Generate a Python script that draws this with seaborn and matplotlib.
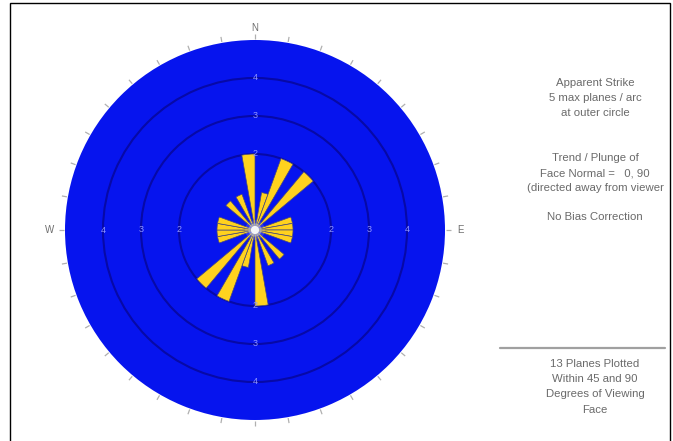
import numpy as np
import matplotlib
matplotlib.use("Agg")
import matplotlib.pyplot as plt
from matplotlib.lines import Line2D
from matplotlib.patches import Rectangle
import seaborn as sns

# Apparent-strike counts per 10-degree arc (0-180); strikes are axial,
# so each arc is mirrored onto the opposite side of the rose.
arc_starts = list(range(0, 180, 10))
arc_counts = [0, 1, 2, 0, 2, 0, 0, 1, 1, 1, 1, 0, 0, 1, 0, 1, 0, 2]
arc_width = 10
max_planes = 5
ring_levels = [2, 3, 4]
ring_labels = ["2", "3", "4"]
tick_angles = np.arange(0, 360, 10)

info_top = ["Apparent Strike", "5 max planes / arc", "at outer circle"]
info_mid = ["Trend / Plunge of", "Face Normal =   0, 90", "(directed away from viewer"]
info_bias = ["No Bias Correction"]
info_bottom = ["13 Planes Plotted", "Within 45 and 90", "Degrees of Viewing", "Face"]

sns.set_style("white")
plt.rcParams["font.family"] = ["Liberation Sans", "DejaVu Sans"]

disc_blue = "#0614ee"
ring_navy = "#0709a6"
petal_gold = sns.color_palette(["#ffd21e"])[0]
label_blue = "#9096ff"
text_grey = "#6a6a6a"

W, H = 673, 441
fig = plt.figure(figsize=(W / 100, H / 100), dpi=100)
fig.patch.set_facecolor("white")

cx, cy, rad = 255, 230, 190
ax = fig.add_axes([(cx - rad) / W, (H - cy - rad) / H, 2 * rad / W, 2 * rad / H],
                  projection="polar")
ax.set_theta_zero_location("N")
ax.set_theta_direction(-1)
ax.set_facecolor(disc_blue)
ax.set_ylim(0, max_planes)
ax.spines["polar"].set_visible(False)
ax.set_axisbelow(True)

# rings
ax.set_yticks(ring_levels)
ax.set_yticklabels([])
ax.yaxis.grid(True, color=ring_navy, linewidth=1.5)
ax.xaxis.grid(False)
ax.set_xticks([])

# outer 10-degree tick marks, just outside the disc
ax.vlines(np.radians(tick_angles), max_planes * 1.005, max_planes * 1.032,
          colors="#b0b0b0", linewidth=0.9, clip_on=False)

# petals
thetas, heights = [], []
for s, c in zip(arc_starts, arc_counts):
    if c > 0:
        for off in (0, 180):
            thetas.append(np.radians(s + off + arc_width / 2))
            heights.append(c)
ax.bar(thetas, heights, width=np.radians(arc_width), bottom=0,
       color=petal_gold, edgecolor="#4a4a78", linewidth=0.5, zorder=3)

# centre highlight
for size, alpha in ((200, 0.15), (90, 0.35), (35, 0.9)):
    ax.scatter([0], [0], s=size, color="white", alpha=alpha, zorder=5,
               linewidths=0, edgecolors="none")

# ring values on the four axes
for ang in (0, 90, 180, 270):
    for lev, lab in zip(ring_levels, ring_labels):
        ax.text(np.radians(ang), lev, lab, ha="center", va="center",
                fontsize=6.5, color=label_blue, zorder=6)

# compass letters
for ang, lab, r in ((0, "N", 5.32), (90, "E", 5.4), (270, "W", 5.4)):
    ax.text(np.radians(ang), r, lab, ha="center", va="center",
            fontsize=7, color="#6e6e6e", clip_on=False)

# right-hand notes
def block(lines, y0, step=15.2):
    for i, t in enumerate(lines):
        fig.text(595 / W, 1 - (y0 + i * step) / H, t, ha="center", va="center",
                 fontsize=8.2, color=text_grey)

block(info_top, 83)
block(info_mid, 158)
block(info_bias, 217)
block(info_bottom, 364)

fig.add_artist(Line2D([500 / W, 665 / W], [1 - 348 / H, 1 - 348 / H],
                      transform=fig.transFigure, color="#a0a0a0", linewidth=1.6))

# frame
fig.add_artist(Rectangle((10 / W, -0.02), 660 / W, 1.02 - 3 / H,
                         transform=fig.transFigure, fill=False,
                         edgecolor="black", linewidth=1.0, clip_on=False))

fig.savefig("out.png", dpi=100)
